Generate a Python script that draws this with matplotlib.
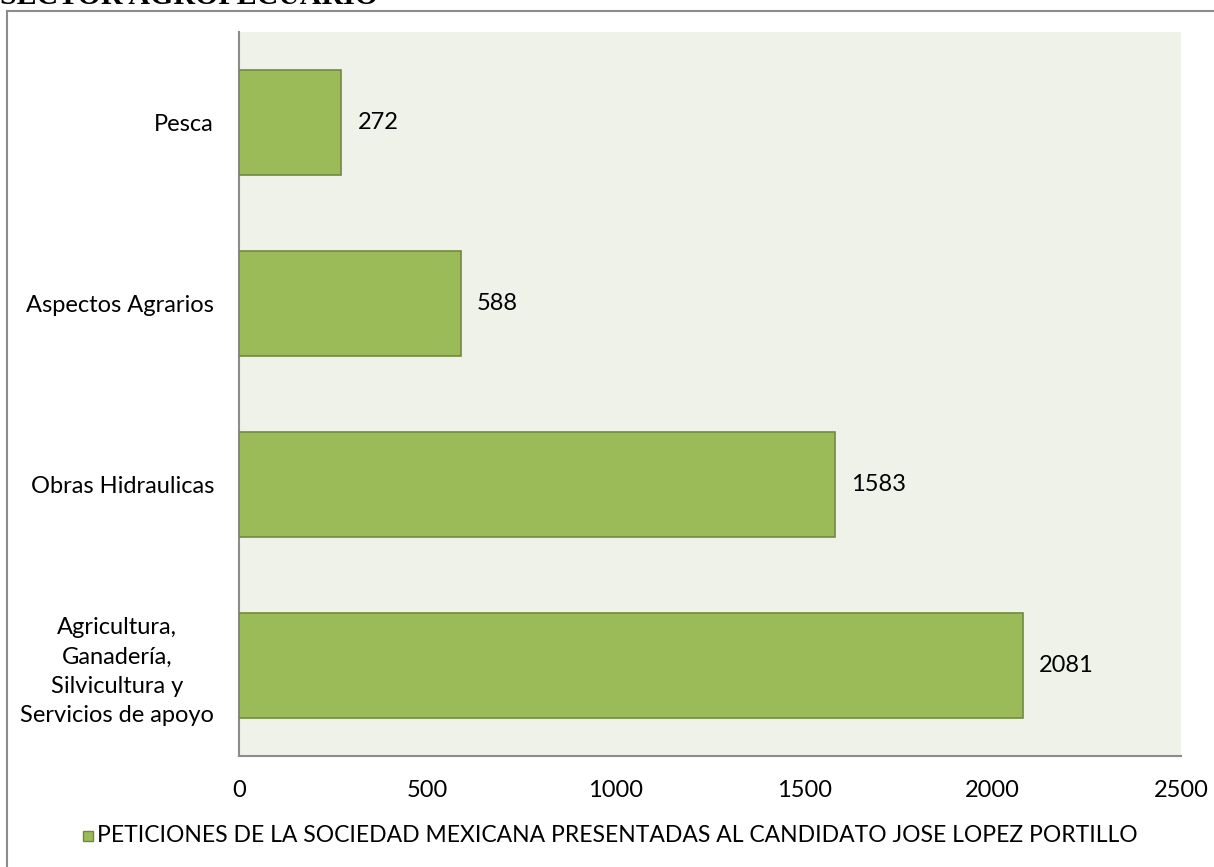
import matplotlib
matplotlib.use("Agg")
import matplotlib.pyplot as plt
from matplotlib.lines import Line2D
from matplotlib.patches import Rectangle

categories = ["Agricultura,\nGanadería,\nSilvicultura y\nServicios de apoyo",
              "Obras Hidraulicas", "Aspectos Agrarios", "Pesca"]
values = [2081, 1583, 588, 272]
xticks = [0, 500, 1000, 1500, 2000, 2500]
series_name = "PETICIONES DE LA SOCIEDAD MEXICANA PRESENTADAS AL CANDIDATO JOSE LOPEZ PORTILLO"
title = "SECTOR AGROPECUARIO"

W, H = 1214, 867
fig = plt.figure(figsize=(W/100, H/100), dpi=100)
plt.rcParams['font.family'] = ['Lato', 'DejaVu Sans']
FS = 17

# outer border
fig.add_artist(Line2D([7/W, 7/W], [0, 1 - 11/H], color='#8c8c8c', lw=1.5, transform=fig.transFigure))
fig.add_artist(Line2D([7/W, 1], [1 - 11/H, 1 - 11/H], color='#8c8c8c', lw=1.5, transform=fig.transFigure))

fig.text(0, 1 - 4/H, title, fontsize=21.5, fontweight='bold', family='Liberation Serif',
         ha='left', va='baseline')

left, right, top, bottom = 239, 1181, 32, 756
ax = fig.add_axes([left/W, 1 - bottom/H, (right-left)/W, (bottom-top)/H])
ax.set_facecolor('#eff2e9')
ypos = list(range(len(categories)))
ax.barh(ypos, values, height=0.575, color='#9bbb59', edgecolor='#71893f', linewidth=1.2, zorder=3)
for y, v in zip(ypos, values):
    ax.annotate(str(v), (v, y), xytext=(16, 0), textcoords='offset pixels',
                va='center', ha='left', fontsize=FS)
ax.set_xlim(0, 2500)
ax.set_ylim(-0.5, 3.5)
ax.set_xticks(xticks)
ax.set_xticklabels([str(t) for t in xticks], fontsize=FS)
ax.set_yticks(ypos)
ax.set_yticklabels(categories, fontsize=FS, linespacing=1.5, multialignment='center')
for s in ['top', 'right']:
    ax.spines[s].set_visible(False)
for s in ['left', 'bottom']:
    ax.spines[s].set_color('#8c8c8c')
    ax.spines[s].set_linewidth(1.5)
ax.tick_params(axis='both', length=0)
ax.tick_params(axis='y', pad=18)
ax.tick_params(axis='x', pad=17)

# legend
lx, ly = 83, 831
fig.add_artist(Rectangle((lx/W, 1 - (ly+10)/H), 10/W, 10/H, facecolor='#9bbb59',
                         edgecolor='#71893f', lw=1, transform=fig.transFigure))
fig.text(97/W, 1 - 836/H, series_name, fontsize=16.5, ha='left', va='center')

fig.savefig("out.png", dpi=100)
